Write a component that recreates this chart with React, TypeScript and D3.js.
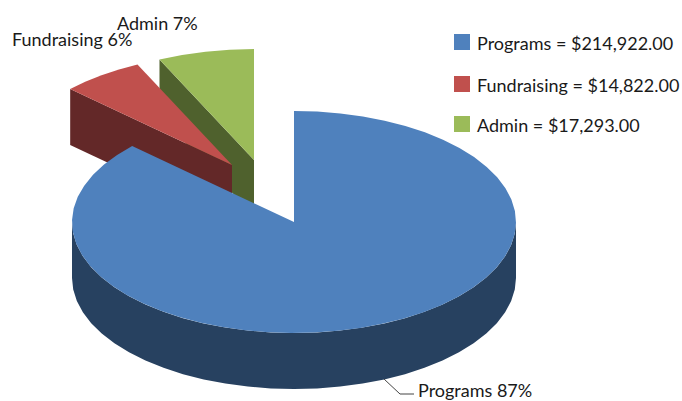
import React from "react";
import * as d3 from "d3";

const categories = ["Programs", "Fundraising", "Admin"];
const amounts = [214922, 14822, 17293];
const amountLabels = ["$214,922.00", "$14,822.00", "$17,293.00"];
const topColors = ["#4F81BD", "#C0504D", "#9BBB59"];
const wallColors = ["#274160", "#632828", "#4F612D"];
const offsets = [[0, 0], [-62, -57], [-40, -62]];
const legendY = [42, 84, 124];
const dataLabelPos = [
  { x: 418, y: 397 },
  { x: 12, y: 46 },
  { x: 117, y: 30 },
];

const CX = 294, CY = 222, RX = 222, RY = 111, DEPTH = 56;
const FONT = "Lato, Carlito, Calibri, sans-serif";

const pie = d3.pie<number>().sort(null)(amounts);
const total = d3.sum(amounts);

const rim = (a: number, ox: number, oy: number, dy = 0): [number, number] => [
  CX + ox + RX * Math.sin(a),
  CY + oy + dy - RY * Math.cos(a),
];
const line = d3.line();
const arcPts = (a0: number, a1: number, ox: number, oy: number, dy = 0) => {
  const n = Math.max(2, Math.round(((a1 - a0) / (2 * Math.PI)) * 60));
  return d3.range(n + 1).map((i) => rim(a0 + ((a1 - a0) * i) / n, ox, oy, dy));
};

function slicePath(i: number) {
  const { startAngle: a0, endAngle: a1 } = pie[i];
  const [ox, oy] = offsets[i];
  return line([[CX + ox, CY + oy], ...arcPts(a0, a1, ox, oy)])! + "Z";
}
function radialWall(i: number) {
  const [ox, oy] = offsets[i];
  const a = pie[i].startAngle;
  const e = rim(a, ox, oy);
  const c: [number, number] = [CX + ox, CY + oy];
  return line([e, c, [c[0], c[1] + DEPTH], [e[0], e[1] + DEPTH]])! + "Z";
}
function outerWall(i: number) {
  const [ox, oy] = offsets[i];
  const top = arcPts(Math.PI / 2, (3 * Math.PI) / 2, ox, oy);
  const bottom = arcPts(Math.PI / 2, (3 * Math.PI) / 2, ox, oy, DEPTH).reverse();
  return line([...top, ...bottom])! + "Z";
}

export default function App() {
  return (
    <svg
      width={682}
      height={401}
      viewBox="0 0 682 401"
      style={{ position: "fixed", left: 0, top: 0, background: "#fff" }}
      fontFamily={FONT}
      fontSize={18}
      fill="#1a1a1a"
    >
      <path d={radialWall(2)} fill={wallColors[2]} />
      <path d={slicePath(2)} fill={topColors[2]} />
      <path d={radialWall(1)} fill={wallColors[1]} />
      <path d={slicePath(1)} fill={topColors[1]} />
      <path d={outerWall(0)} fill={wallColors[0]} />
      <path d={slicePath(0)} fill={topColors[0]} />
      <polyline points="384,379 400,394 414,394" fill="none" stroke="#444" strokeWidth={1} />
      {categories.map((c, i) => (
        <text key={c} x={dataLabelPos[i].x} y={dataLabelPos[i].y}>
          {`${c} ${Math.round((amounts[i] / total) * 100)}%`}
        </text>
      ))}
      {categories.map((c, i) => (
        <g key={c}>
          <rect x={454} y={legendY[i] - 8} width={16} height={16} fill={topColors[i]} />
          <text x={477} y={legendY[i] + 7.5}>{`${c} = ${amountLabels[i]}`}</text>
        </g>
      ))}
    </svg>
  );
}
